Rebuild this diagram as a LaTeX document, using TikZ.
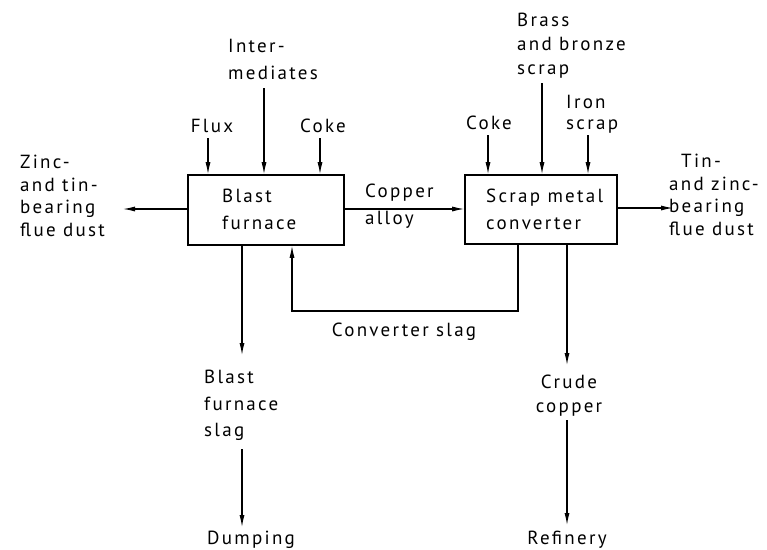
\documentclass[tikz,border=0pt]{standalone}
\usepackage{fontspec}
\setmainfont{PT Sans}[LetterSpace=12]
\usetikzlibrary{arrows.meta}
\begin{document}
\begin{tikzpicture}[x=1pt,y=-1pt,
  txt/.style={inner sep=0pt, align=left, font=\fontsize{19}{#1}\selectfont},
  txt/.default=27,
  boxst/.style={draw, line width=1.6pt, inner sep=0pt},
  flow/.style={line width=1.1pt, -{Latex[length=12pt,width=5pt]}}]
\useasboundingbox (0,0) rectangle (767,549);
% boxes
\node[boxst, minimum width=156pt, minimum height=70pt] (bf) at (266,210) {};
\node[boxst, minimum width=152pt, minimum height=69pt] (sc) at (541,209.5) {};
\node[txt, anchor=north west] (bft) at (222,189) {Blast\\furnace};
\node[txt, anchor=north west] (sct) at (486,189) {Scrap metal\\converter};
% labels
\node[txt, anchor=north] (flux) at (212,119) {Flux};
\node[txt, anchor=north] (coke1) at (323,119) {Coke};
\node[txt, anchor=north west] (inter) at (228,39) {Inter-\\mediates};
\node[txt=22.5, anchor=north west] (zinc) at (20,155) {Zinc-\\and tin-\\bearing\\flue dust};
\node[txt, anchor=north west] (cu) at (365,184) {Copper\\alloy};
\node[txt, anchor=north] (coke2) at (489,116) {Coke};
\node[txt=24, anchor=north west] (brass) at (517,13) {Brass\\and bronze\\scrap};
\node[txt=21, anchor=north west] (iron) at (566,95) {Iron\\scrap};
\node[txt=22.5, anchor=north west] (tin) at (669,154) {\hspace*{12pt}Tin-\\and zinc-\\bearing\\flue dust};
\node[txt=26.5, anchor=north west] (bfs) at (204,370) {Blast\\furnace\\slag};
\node[txt, anchor=north west] (dump) at (207,531) {Dumping};
\node[txt=24, anchor=north, align=center] (crude) at (569,375) {Crude\\copper};
\node[txt, anchor=north] (ref) at (567,531) {Refinery};
\node[txt, anchor=north] (cslag) at (404,323) {Converter slag};
% inputs
\coordinate (fluxin) at (208,138);
\coordinate (interin) at (264,88);
\coordinate (cokein1) at (320,138);
\coordinate (cokein2) at (488,135);
\coordinate (brassin) at (542,83);
\coordinate (ironin) at (588,135);
\draw[flow] (fluxin) -- (fluxin |- bf.north);
\draw[flow] (interin) -- (interin |- bf.north);
\draw[flow] (cokein1) -- (cokein1 |- bf.north);
\draw[flow] (cokein2) -- (cokein2 |- sc.north);
\draw[flow] (brassin) -- (brassin |- sc.north);
\draw[flow] (ironin) -- (ironin |- sc.north);
% side outputs
\coordinate (zincout) at (123,209);
\coordinate (cuy) at (0,209);
\coordinate (tinout) at (673,208);
\draw[flow] (zincout -| bf.west) -- (zincout);
\draw[flow] (cuy -| bf.east) -- (cuy -| sc.west);
\draw[flow] (tinout -| sc.east) -- (tinout);
% bottom outputs
\coordinate (bfs1) at (242,355);
\coordinate (bfs2a) at (242,449);
\coordinate (bfs2b) at (242,527);
\draw[flow] (bfs1 |- bf.south) -- (bfs1);
\draw[flow] (bfs2a) -- (bfs2b);
\coordinate (cr1) at (567,365);
\coordinate (cr2a) at (567,420);
\coordinate (cr2b) at (567,525);
\draw[flow] (cr1 |- sc.south) -- (cr1);
\draw[flow] (cr2a) -- (cr2b);
% converter slag loop
\coordinate (loopR) at (518,311);
\coordinate (loopL) at (292,311);
\draw[flow] (loopR |- sc.south) -- (loopR) -- (loopL) -- (loopL |- bf.south);
\end{tikzpicture}
\end{document}
